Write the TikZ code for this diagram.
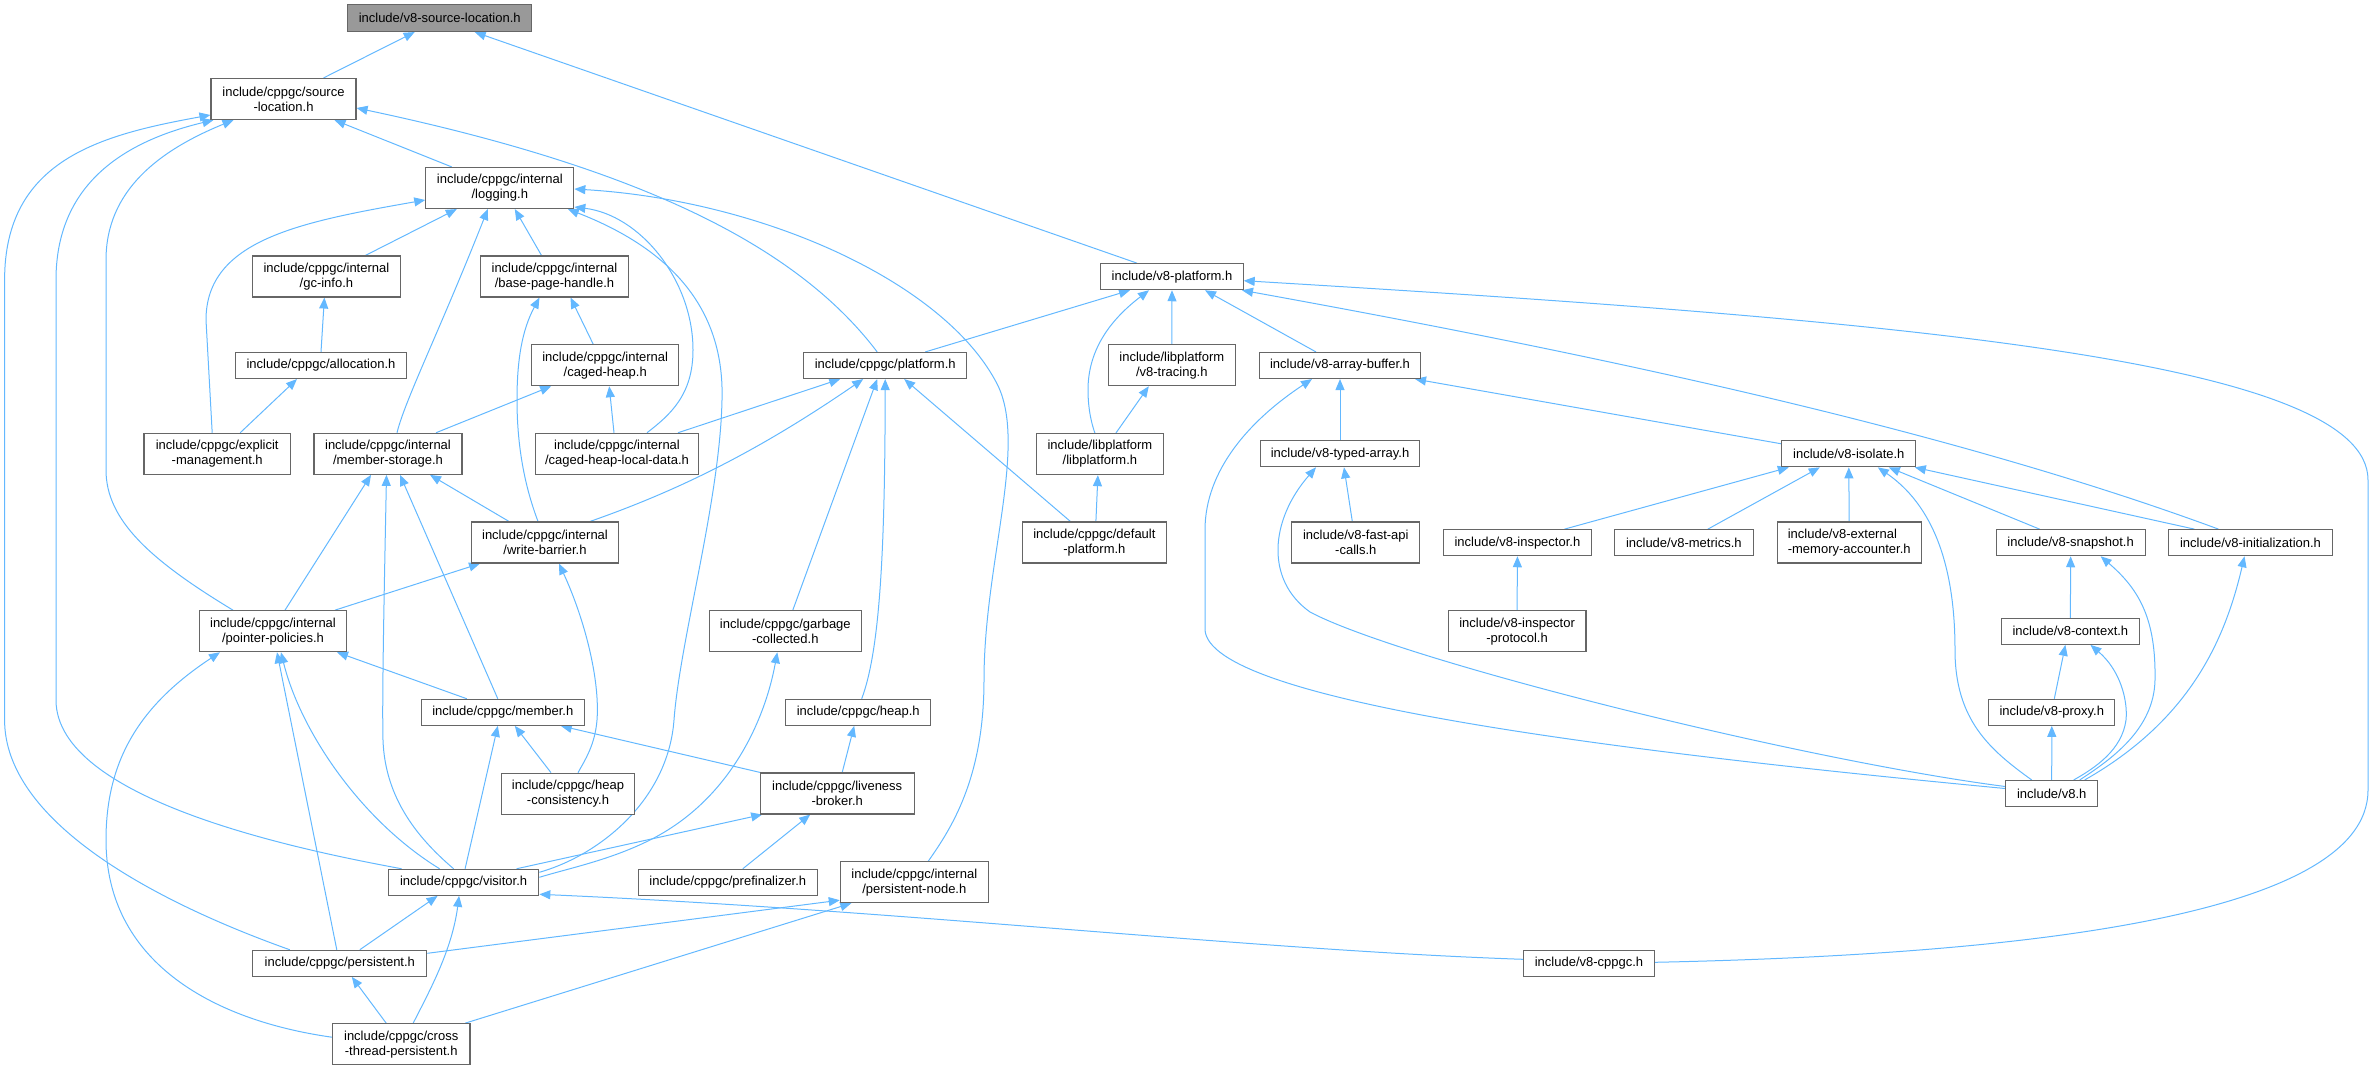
\documentclass[tikz,border=0pt]{standalone}
\usepackage{fontspec}
\setmainfont{Liberation Sans}
\usetikzlibrary{arrows.meta}
\definecolor{edgec}{HTML}{63B8FF}
\definecolor{nodeb}{HTML}{666666}
\definecolor{topfill}{HTML}{999999}
\pgfdeclarelayer{bg}
\pgfsetlayers{bg,main}
\begin{document}
\begin{tikzpicture}[x=1pt,y=-1pt,
  box/.style={draw=nodeb,line width=1.1pt,fill=white,inner sep=0pt,align=center,font=\fontsize{13}{15}\selectfont},
  hdr/.style={box,fill=topfill},
  e/.style={draw=edgec,line width=1pt,{Triangle[length=11pt,width=9pt]}-}]
\path[use as bounding box] (0,0) rectangle (2375,1070);
% nodes
\node[hdr,minimum width=184pt,minimum height=27pt] (v8sl) at (439.7,18) {include/v8-source-location.h};
\node[box,minimum width=145pt,minimum height=41pt] (srcloc) at (283.5,99) {include/cppgc/source\\-location.h};
\node[box,minimum width=148pt,minimum height=41pt] (logging) at (499.8,188) {include/cppgc/internal\\/logging.h};
\node[box,minimum width=148pt,minimum height=41pt] (gcinfo) at (326.4,276.5) {include/cppgc/internal\\/gc-info.h};
\node[box,minimum width=148pt,minimum height=41pt] (basepage) at (554.5,276.5) {include/cppgc/internal\\/base-page-handle.h};
\node[box,minimum width=171.5pt,minimum height=26pt] (allocation) at (321,365.5) {include/cppgc/allocation.h};
\node[box,minimum width=147pt,minimum height=41pt] (cagedheap) at (605.2,365.2) {include/cppgc/internal\\/caged-heap.h};
\node[box,minimum width=146.5pt,minimum height=41pt] (explicit) at (217.2,453.8) {include/cppgc/explicit\\-management.h};
\node[box,minimum width=148pt,minimum height=41pt] (memstor) at (388,453.8) {include/cppgc/internal\\/member-storage.h};
\node[box,minimum width=163.5pt,minimum height=41pt] (cagedlocal) at (617,453.8) {include/cppgc/internal\\/caged-heap-local-data.h};
\node[box,minimum width=147pt,minimum height=41pt] (wbarrier) at (545,542.5) {include/cppgc/internal\\/write-barrier.h};
\node[box,minimum width=147pt,minimum height=41pt] (ptrpol) at (273,631.2) {include/cppgc/internal\\/pointer-policies.h};
\node[box,minimum width=163pt,minimum height=26pt] (member) at (502.8,712.3) {include/cppgc/member.h};
\node[box,minimum width=133.5pt,minimum height=41pt] (heapcons) at (568,793.7) {include/cppgc/heap\\-consistency.h};
\node[box,minimum width=150.4pt,minimum height=26pt] (visitor) at (463.6,882.3) {include/cppgc/visitor.h};
\node[box,minimum width=174pt,minimum height=26pt] (persistent) at (339.8,963.3) {include/cppgc/persistent.h};
\node[box,minimum width=137.5pt,minimum height=41pt] (crossthread) at (401.2,1044.2) {include/cppgc/cross\\-thread-persistent.h};
\node[box,minimum width=163.4pt,minimum height=26pt] (cplatform) at (885.2,365.5) {include/cppgc/platform.h};
\node[box,minimum width=152pt,minimum height=41pt] (garbage) at (785.3,631.2) {include/cppgc/garbage\\-collected.h};
\node[box,minimum width=144.7pt,minimum height=26pt] (heap) at (858.2,712.3) {include/cppgc/heap.h};
\node[box,minimum width=126.6pt,minimum height=41pt] (libplat) at (1099.9,454.1) {include/libplatform\\/libplatform.h};
\node[box,minimum width=144.7pt,minimum height=41pt] (defplat) at (1094.4,542.5) {include/cppgc/default\\-platform.h};
\node[box,minimum width=126.6pt,minimum height=41pt] (tracing) at (1171.8,365.2) {include/libplatform\\/v8-tracing.h};
\node[box,minimum width=153.8pt,minimum height=41pt] (liveness) at (837.2,793.5) {include/cppgc/liveness\\-broker.h};
\node[box,minimum width=179pt,minimum height=26pt] (prefin) at (727.8,882.3) {include/cppgc/prefinalizer.h};
\node[box,minimum width=148pt,minimum height=41pt] (pnode) at (914.3,882.2) {include/cppgc/internal\\/persistent-node.h};
\node[box,minimum width=142.3pt,minimum height=26pt] (v8plat) at (1172,276.7) {include/v8-platform.h};
\node[box,minimum width=160.7pt,minimum height=26pt] (arraybuf) at (1340,365.5) {include/v8-array-buffer.h};
\node[box,minimum width=159pt,minimum height=26pt] (typedarr) at (1340,453.8) {include/v8-typed-array.h};
\node[box,minimum width=128.2pt,minimum height=41pt] (fastapi) at (1355.8,542.5) {include/v8-fast-api\\-calls.h};
\node[box,minimum width=148pt,minimum height=26pt] (inspector) at (1517.4,542.7) {include/v8-inspector.h};
\node[box,minimum width=139pt,minimum height=26pt] (metrics) at (1683.8,542.7) {include/v8-metrics.h};
\node[box,minimum width=137.8pt,minimum height=41pt] (inspproto) at (1517.1,631.2) {include/v8-inspector\\-protocol.h};
\node[box,minimum width=134pt,minimum height=26pt] (isolate) at (1848.8,453.8) {include/v8-isolate.h};
\node[box,align=left,minimum width=144pt,minimum height=41pt] (extmem) at (1849.2,542.5) {include/v8-external\\-memory-accounter.h};
\node[box,minimum width=149pt,minimum height=26pt] (snapshot) at (2070.6,542.7) {include/v8-snapshot.h};
\node[box,minimum width=163.4pt,minimum height=26pt] (init) at (2250.5,542.7) {include/v8-initialization.h};
\node[box,minimum width=138.6pt,minimum height=26pt] (context) at (2070.4,631.3) {include/v8-context.h};
\node[box,minimum width=126pt,minimum height=26pt] (proxy) at (2051.8,712.3) {include/v8-proxy.h};
\node[box,minimum width=92pt,minimum height=26pt] (v8h) at (2051.7,793.5) {include/v8.h};
\node[box,minimum width=131pt,minimum height=26pt] (cppgc8) at (1589,963.3) {include/v8-cppgc.h};
% edges
\begin{pgfonlayer}{bg}
\draw[e] ([xshift=-25pt]v8sl.south) -- ([xshift=40pt]srcloc.north);
\draw[e] ([xshift=35pt]v8sl.south) -- ([xshift=-35pt]v8plat.north);
\draw[e] ([xshift=51pt]srcloc.south) -- ([xshift=-48pt]logging.north);
\draw[e] ([yshift=-9pt]srcloc.east) .. controls (650,170) and (800,250) .. ([xshift=-8pt]cplatform.north);
\draw[e] ([xshift=-50pt]srcloc.south) .. controls (160,150) and (106,190) .. (106,260) -- (106,470) .. controls (106,520) and (150,560) .. ([xshift=-40pt]ptrpol.north);
\draw[e] ([xshift=-70pt]srcloc.south) .. controls (130,140) and (56,180) .. (56,280) -- (56,700) .. controls (56,800) and (300,850) .. ([xshift=-62pt]visitor.north);
\draw[e] ([yshift=-16pt]srcloc.west) .. controls (100,135) and (4.6,160) .. (4.6,280) -- (4.6,720) .. controls (4.6,820) and (150,900) .. ([xshift=-50pt]persistent.north);
\draw[e] ([xshift=-43pt]logging.south) -- ([xshift=39pt]gcinfo.north);
\draw[e] ([xshift=15pt]logging.south) -- ([xshift=-13pt]basepage.north);
\draw[e] ([yshift=-12pt]logging.west) .. controls (300,222) and (206,240) .. (206,320) -- ([xshift=-5pt]explicit.north);
\draw[e] ([xshift=-12pt]logging.south) .. controls (440,330) and (405,400) .. ([xshift=9pt]memstor.north);
\draw[e] ([yshift=-19pt]logging.east) .. controls (640,215) and (693,280) .. (693,350) .. controls (693,395) and (670,415) .. ([xshift=30pt]cagedlocal.north);
\draw[e] ([xshift=68pt]logging.south) .. controls (660,245) and (725,300) .. (722,400) .. controls (720,500) and (680,640) .. (674,720) .. controls (668,800) and (600,855) .. ([yshift=10pt]visitor.east);
\draw[e] ([yshift=-1pt]logging.east) .. controls (760,200) and (940,280) .. (995,380) .. controls (1030,440) and (984,560) .. (984,680) .. controls (984,780) and (950,830) .. ([xshift=14pt]pnode.north);
\draw[e] ([xshift=-2pt]gcinfo.south) -- (allocation.north);
\draw[e] ([xshift=-24pt]allocation.south) -- ([xshift=23pt]explicit.north);
\draw[e] ([xshift=16pt]basepage.south) -- ([xshift=-12pt]cagedheap.north);
\draw[e] ([xshift=-15pt]basepage.south) .. controls (522,330) and (517,360) .. (517,400) .. controls (517,460) and (530,500) .. ([xshift=-7pt]wbarrier.north);
\draw[e] ([xshift=-54pt]cagedheap.south) -- ([xshift=48pt]memstor.north);
\draw[e] ([xshift=4pt]cagedheap.south) -- ([xshift=-3pt]cagedlocal.north);
\draw[e] ([xshift=-45pt]cplatform.south) -- ([xshift=61pt]cagedlocal.north);
\draw[e] ([xshift=-22pt]cplatform.south) .. controls (760,450) and (680,490) .. ([xshift=45pt]wbarrier.north);
\draw[e] ([xshift=-8pt]cplatform.south) -- ([xshift=7.5pt]garbage.north);
\draw[e] (cplatform.south) .. controls (885,550) and (880,650) .. ([xshift=3.5pt]heap.north);
\draw[e] ([xshift=19pt]cplatform.south) -- ([xshift=-24pt]defplat.north);
\draw[e] ([xshift=-42pt]v8plat.south) -- ([xshift=40pt]cplatform.north);
\draw[e] ([xshift=-23pt]v8plat.south) .. controls (1110,320) and (1088,350) .. (1088,390) .. controls (1088,410) and (1092,425) .. ([xshift=-5pt]libplat.north);
\draw[e] (v8plat.south) -- (tracing.north);
\draw[e] ([xshift=33pt]v8plat.south) -- ([xshift=-24pt]arraybuf.north);
\draw[e] ([xshift=70pt]v8plat.south) .. controls (1600,355) and (1950,430) .. ([xshift=-32pt]init.north);
\draw[e] ([yshift=-4pt]v8plat.east) .. controls (1900,320) and (2368,360) .. (2368,480) -- (2368,790) .. controls (2368,920) and (2000,955) .. ([yshift=1pt]cppgc8.east);
\draw[e] ([xshift=-17pt]memstor.south) -- ([xshift=12pt]ptrpol.north);
\draw[e] ([xshift=-1.5pt]memstor.south) .. controls (384,600) and (382,700) .. (383,740) .. controls (385,800) and (420,840) .. ([xshift=-10pt]visitor.north);
\draw[e] ([xshift=12pt]memstor.south) -- ([xshift=-5pt]member.north);
\draw[e] ([xshift=42pt]memstor.south) -- ([xshift=-36pt]wbarrier.north);
\draw[e] ([xshift=-65pt]wbarrier.south) -- ([xshift=62pt]ptrpol.north);
\draw[e] ([xshift=14pt]wbarrier.south) .. controls (585,620) and (600,680) .. (597,720) .. controls (595,745) and (585,760) .. ([xshift=10pt]heapcons.north);
\draw[e] ([xshift=64pt]ptrpol.south) -- ([xshift=-36pt]member.north);
\draw[e] ([xshift=4pt]ptrpol.south) -- ([xshift=-3pt]persistent.north);
\draw[e] ([xshift=8pt]ptrpol.south) .. controls (300,730) and (360,820) .. ([xshift=-24pt]visitor.north);
\draw[e] ([xshift=-53pt]ptrpol.south) .. controls (140,705) and (106,760) .. (106,840) .. controls (106,960) and (210,1020) .. ([yshift=7pt]crossthread.west);
\draw[e] ([xshift=-5pt]member.south) -- ([xshift=1.5pt]visitor.north);
\draw[e] ([xshift=12pt]member.south) -- ([xshift=-17pt]heapcons.north);
\draw[e] ([xshift=58pt]member.south) -- ([xshift=-77pt]liveness.north);
\draw[e] ([xshift=-8pt]garbage.south) .. controls (765,720) and (730,800) .. (650,840) .. controls (610,860) and (570,868) .. ([yshift=5pt]visitor.east);
\draw[e] ([xshift=-75pt]liveness.south) -- ([xshift=53pt]visitor.north);
\draw[e] ([xshift=-27pt]liveness.south) -- ([xshift=15pt]prefin.north);
\draw[e] ([xshift=-4pt]heap.south) -- ([xshift=5pt]liveness.north);
\draw[e] ([yshift=-18pt]pnode.west) -- ([yshift=10pt]persistent.east);
\draw[e] ([xshift=-63pt]pnode.south) -- ([xshift=64pt]crossthread.north);
\draw[e] ([xshift=12pt]persistent.south) -- ([xshift=-15pt]crossthread.north);
\draw[e] ([xshift=-4.5pt]visitor.south) .. controls (452,950) and (430,990) .. ([xshift=12pt]crossthread.north);
\draw[e] ([xshift=-26pt]visitor.south) -- ([xshift=20pt]persistent.north);
\draw[e] ([yshift=-12pt]visitor.east) .. controls (900,910) and (1250,950) .. ([yshift=4pt]cppgc8.west);
\draw[e] ([xshift=-23pt]tracing.south) -- ([xshift=16pt]libplat.north);
\draw[e] ([xshift=-2pt]libplat.south) -- ([xshift=1.5pt]defplat.north);
\draw[e] (arraybuf.south) -- (typedarr.north);
\draw[e] ([xshift=-28pt]arraybuf.south) .. controls (1250,420) and (1205,470) .. (1205,530) -- (1205,630) .. controls (1210,700) and (1600,750) .. ([yshift=5pt]v8h.west);
\draw[e] ([xshift=-24pt]typedarr.south) .. controls (1270,520) and (1265,580) .. (1310,612) .. controls (1400,660) and (1800,760) .. ([yshift=7pt]v8h.west);
\draw[e] ([xshift=4pt]typedarr.south) -- ([xshift=-3.5pt]fastapi.north);
\draw[e] ([xshift=75pt]arraybuf.south) -- ([yshift=10pt]isolate.west);
\draw[e] ([xshift=-60pt]isolate.south) -- ([xshift=47pt]inspector.north);
\draw[e] ([xshift=-29pt]isolate.south) -- ([xshift=24pt]metrics.north);
\draw[e] (isolate.south) -- (extmem.north);
\draw[e] ([xshift=29pt]isolate.south) .. controls (1940,510) and (1955,580) .. (1955,650) .. controls (1955,720) and (1990,750) .. ([xshift=-20pt]v8h.north);
\draw[e] ([xshift=40pt]isolate.south) -- ([xshift=-31pt]snapshot.north);
\draw[e] ([xshift=66pt]isolate.south) -- ([xshift=-56pt]init.north);
\draw[e] (inspector.south) -- (inspproto.north);
\draw[e] (snapshot.south) -- (context.north);
\draw[e] ([xshift=30pt]snapshot.south) .. controls (2140,590) and (2156,620) .. (2155,680) .. controls (2154,730) and (2110,760) .. ([xshift=28pt]v8h.north);
\draw[e] ([xshift=-5pt]context.south) -- ([xshift=2.5pt]proxy.north);
\draw[e] ([xshift=20pt]context.south) .. controls (2120,670) and (2128,700) .. (2126,720) .. controls (2122,750) and (2095,768) .. ([xshift=22pt]v8h.north);
\draw[e] (proxy.south) -- (v8h.north);
\draw[e] ([xshift=-6pt]init.south) .. controls (2225,640) and (2190,720) .. ([xshift=33pt]v8h.north);
\end{pgfonlayer}
\end{tikzpicture}
\end{document}
